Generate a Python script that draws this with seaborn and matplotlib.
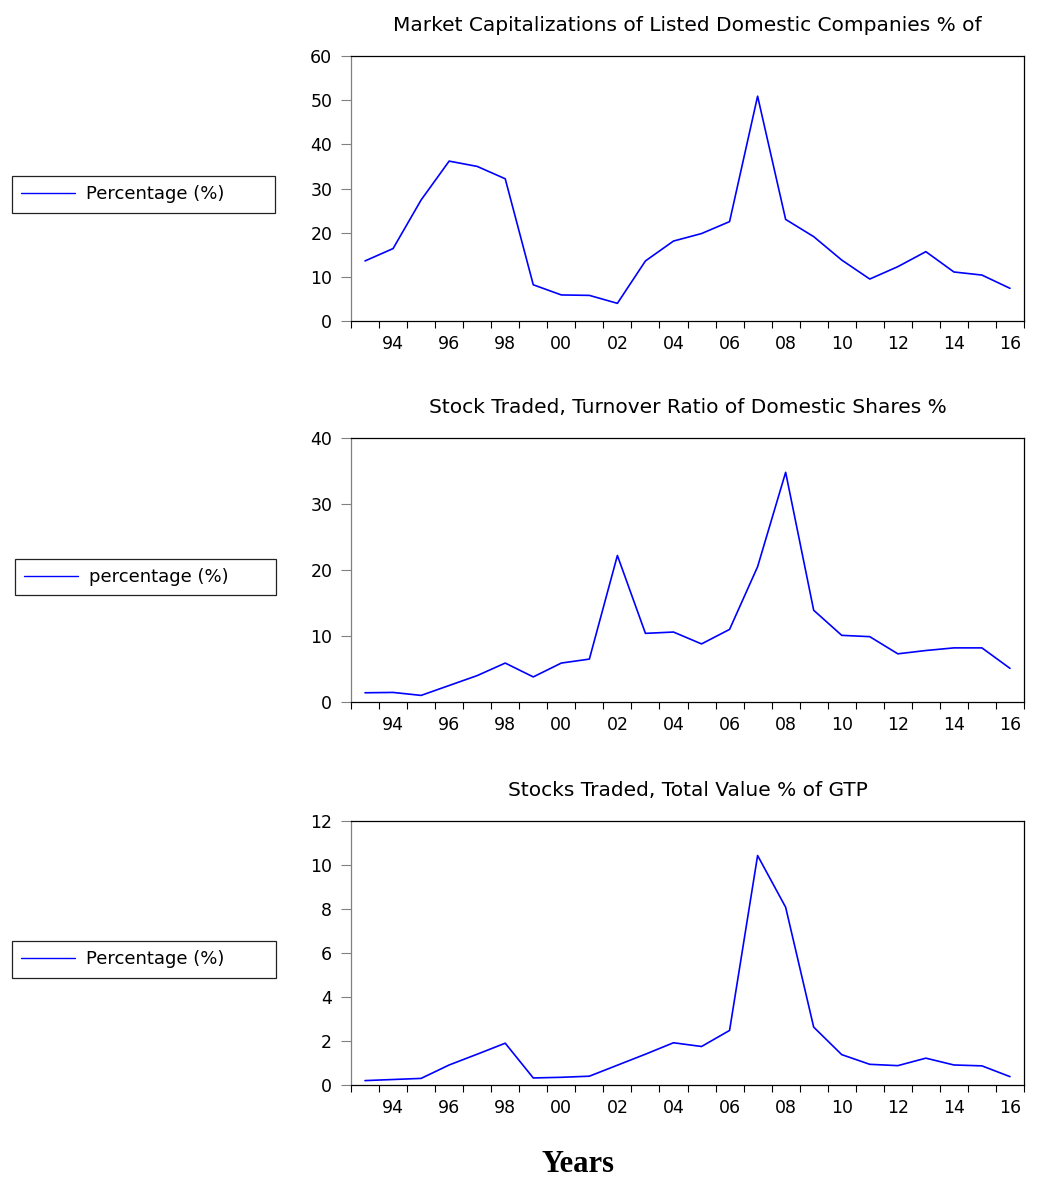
import numpy as np
import pandas as pd
import matplotlib
matplotlib.use("Agg")
import matplotlib.pyplot as plt
from matplotlib.ticker import FixedLocator, FixedFormatter
import seaborn as sns

# Annual observations, 1993-2016
years = list(range(1993, 2017))

market_cap = [13.6, 16.4, 27.4, 36.2, 35.0, 32.2, 8.2, 5.9, 5.8, 4.0,
              13.6, 18.1, 19.8, 22.5, 50.9, 23.0, 19.1, 13.8, 9.5, 12.3,
              15.7, 11.1, 10.4, 7.4]

turnover = [1.4, 1.45, 1.0, 2.5, 4.0, 5.9, 3.8, 5.9, 6.5, 22.2,
            10.4, 10.6, 8.8, 11.0, 20.5, 34.8, 13.9, 10.1, 9.9, 7.3,
            7.8, 8.2, 8.2, 5.1]

traded_value = [0.2, 0.25, 0.3, 0.91, 1.4, 1.9, 0.32, 0.35, 0.4, 0.9,
                1.4, 1.92, 1.75, 2.48, 10.43, 8.08, 2.63, 1.38, 0.94, 0.88,
                1.22, 0.91, 0.87, 0.38]

titles = ["Market Capitalizations of Listed Domestic Companies % of",
          "Stock Traded, Turnover Ratio of Domestic Shares %",
          "Stocks Traded, Total Value % of GTP"]
legend_labels = ["Percentage (%)", "percentage (%)", "Percentage (%)"]
y_limits = [(0, 60), (0, 40), (0, 12)]
y_steps = [10, 10, 2]
label_years = list(range(1994, 2017, 2))
year_labels = [f"{y % 100:02d}" for y in label_years]
x_label = "Years"

sns.set_theme(style="white")
plt.rcParams["font.family"] = ["DejaVu Sans"]
plt.rcParams["text.color"] = "black"
plt.rcParams["axes.labelcolor"] = "black"
plt.rcParams["xtick.color"] = "black"
plt.rcParams["ytick.color"] = "black"

W, H = 1060, 1179
fig = plt.figure(figsize=(W / 100, H / 100), dpi=100)

# panel boxes in pixels: (left, top, right, bottom)
boxes = [(351, 56, 1024, 321), (351, 438, 1024, 702), (351, 821, 1024, 1085)]
legend_boxes = [(12, 194.5, 263), (15, 577, 261), (12, 959.5, 264)]

series = [market_cap, turnover, traded_value]

for i, (vals, (l, t, r, b)) in enumerate(zip(series, boxes)):
    ax = fig.add_axes([l / W, 1 - b / H, (r - l) / W, (b - t) / H])
    df = pd.DataFrame({"year": years, "value": vals})
    sns.lineplot(data=df, x="year", y="value", ax=ax, color="#0000FF",
                 linewidth=1.2, label=legend_labels[i])
    ax.set_xlabel("")
    ax.set_ylabel("")
    ax.set_xlim(1992.5, 2016.5)
    lo, hi = y_limits[i]
    ax.set_ylim(lo, hi)
    ticks = np.arange(lo, hi + 0.001, y_steps[i])
    ax.set_yticks(ticks)
    ax.set_yticklabels([f"{v:g}" for v in ticks])

    # year labels centred on observations, ticks on period boundaries
    ax.xaxis.set_major_locator(FixedLocator(label_years))
    ax.xaxis.set_major_formatter(FixedFormatter(year_labels))
    ax.xaxis.set_minor_locator(FixedLocator([y + 0.5 for y in range(1992, 2017)]))
    ax.tick_params(axis="x", which="major", length=0, pad=10, labelsize=12.5,
                   labelcolor="black")
    ax.tick_params(axis="x", which="minor", bottom=True, direction="out",
                   length=5, width=0.8, color="black")
    ax.tick_params(axis="y", which="major", left=True, direction="out",
                   length=7.5, width=0.8, color="#808080", pad=6,
                   labelsize=12.5, labelcolor="black")

    for name, sp in ax.spines.items():
        sp.set_visible(True)
        sp.set_linewidth(0.9)
        sp.set_color("#808080" if name == "left" else "black")

    ax.set_title(titles[i], fontsize=14.5, pad=18, color="black")

    lx, ly, lw = legend_boxes[i]
    leg = ax.legend(loc="center", bbox_to_anchor=(lx / W, 1 - ly / H, lw / W, 0),
                    bbox_transform=fig.transFigure, mode="expand",
                    borderaxespad=0, fontsize=13, handlelength=3.0,
                    handletextpad=0.6, borderpad=0.5, fancybox=False,
                    framealpha=1, frameon=True)
    leg.get_frame().set_edgecolor("#222222")
    leg.get_frame().set_linewidth(0.9)
    for txt in leg.get_texts():
        txt.set_color("black")
    for line in leg.get_lines():
        line.set_linewidth(1.0)

fig.text(578 / W, 1 - 1165 / H, x_label, ha="center", va="center", color="black",
         fontsize=22, fontweight="bold", family=["Liberation Serif", "DejaVu Serif"])

fig.savefig("out.png", dpi=100, facecolor="white")
